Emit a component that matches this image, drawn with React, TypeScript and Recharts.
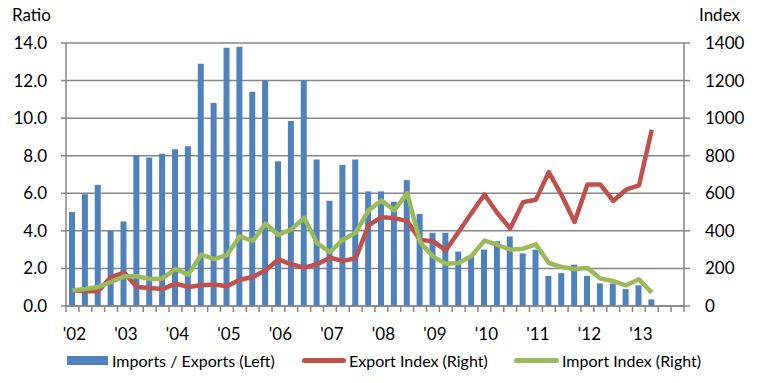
import React from "react"
import {
    ComposedChart,
    Bar,
    Line,
    XAxis,
    YAxis,
    CartesianGrid,
} from "recharts"

const years = ["02", "03", "04", "05", "06", "07", "08", "09", "10", "11", "12", "13"]
const quarters = ["Q1", "Q2", "Q3", "Q4"]

// imports / exports ratio, left axis (2002Q1 .. 2013Q2)
const ratio = [
    5.0, 5.95, 6.45, 4.0, 4.5, 8.0, 7.9, 8.1, 8.35, 8.5, 12.9, 10.8,
    13.75, 13.8, 11.4, 12.0, 7.7, 9.85, 12.0, 7.8, 5.6, 7.5, 7.8, 6.1,
    6.1, 5.55, 6.7, 4.9, 3.9, 3.9, 2.9, 2.65, 3.0, 3.45, 3.7, 2.8,
    3.0, 1.6, 1.75, 2.2, 1.6, 1.2, 1.2, 0.9, 1.1, 0.35,
]

// right axis
const exportIndex = [
    84, 78, 78, 154, 178, 101, 96, 90, 119, 101, 110, 114,
    105, 140, 154, 190, 248, 222, 204, 222, 257, 240, 254, 429,
    473, 468, 452, 352, 345, 296, 395, 495, 594, 495, 412, 553,
    566, 713, 589, 447, 647, 647, 559, 619, 642, 938,
]

const importIndex = [
    84, 90, 101, 128, 158, 158, 144, 147, 197, 167, 273, 250,
    271, 371, 346, 438, 378, 408, 470, 335, 287, 353, 390, 509,
    562, 509, 601, 341, 263, 225, 229, 266, 348, 326, 300, 305,
    328, 229, 208, 197, 202, 146, 133, 110, 142, 71,
]

const leftTicks = [0, 2, 4, 6, 8, 10, 12, 14]
const rightTicks = [0, 200, 400, 600, 800, 1000, 1200, 1400]

const categories = years.flatMap((y) => quarters.map((q) => `${y}${q}`))

const data = categories.map((c, i) => ({
    name: c,
    ratio: ratio[i] ?? null,
    exp: exportIndex[i] ?? null,
    imp: importIndex[i] ?? null,
}))

const FONT = "Lato, 'Open Sans', sans-serif"
const GRID = "#868686"
const PLOT_LEFT = 66
const PLOT_RIGHT = 684
const BAND = (PLOT_RIGHT - PLOT_LEFT) / categories.length

function QuarterTick(props: any) {
    const { x, y, payload, index } = props
    const name: string = payload.value
    const isQ1 = name.endsWith("Q1")
    const last = index === categories.length - 1
    return (
        <g>
            <line x1={x - BAND / 2} x2={x - BAND / 2} y1={y - 6} y2={y} stroke={GRID} strokeWidth={1.5} />
            {last && (
                <line x1={x + BAND / 2} x2={x + BAND / 2} y1={y - 6} y2={y} stroke={GRID} strokeWidth={1.5} />
            )}
            {isQ1 && (
                <text x={x + 2} y={y + 28} textAnchor="middle" fill="#000" fontSize={17} fontFamily={FONT}>
                    {"'" + name.slice(0, 2)}
                </text>
            )}
        </g>
    )
}

function LegendRow() {
    const item = { position: "absolute" as const, top: 351, display: "flex", alignItems: "center", fontSize: 16, fontFamily: FONT, color: "#000" }
    return (
        <>
            <div style={{ ...item, left: 67 }}>
                <span style={{ display: "inline-block", width: 41, height: 9, background: "#4F81BD", marginRight: 4 }} />
                Imports / Exports (Left)
            </div>
            <div style={{ ...item, left: 302 }}>
                <span style={{ display: "inline-block", width: 44, height: 5, borderRadius: 2.5, background: "#C0504D", marginRight: 3 }} />
                Export Index (Right)
            </div>
            <div style={{ ...item, left: 514 }}>
                <span style={{ display: "inline-block", width: 45, height: 5, borderRadius: 2.5, background: "#9BBB59", marginRight: 3 }} />
                Import Index (Right)
            </div>
        </>
    )
}

export default function App() {
    return (
        <div style={{ position: "absolute", left: 0, top: 0, width: 758, height: 383, background: "#fff" }}>
            <div style={{ position: "absolute", left: 12, top: 4, fontSize: 17, fontFamily: FONT }}>Ratio</div>
            <div style={{ position: "absolute", left: 699, top: 4, fontSize: 17, fontFamily: FONT }}>Index</div>
            <ComposedChart
                width={758}
                height={383}
                data={data}
                margin={{ top: 43, right: 0, bottom: 47, left: 0 }}
                barCategoryGap={0}
            >
                <CartesianGrid vertical={false} stroke={GRID} strokeWidth={1.5} yAxisId="left" />
                <XAxis
                    dataKey="name"
                    interval={0}
                    height={30}
                    tick={<QuarterTick />}
                    tickLine={false}
                    tickSize={6}
                    tickMargin={0}
                    axisLine={{ stroke: GRID, strokeWidth: 1.5 }}
                />
                <YAxis
                    yAxisId="left"
                    domain={[0, 14]}
                    ticks={leftTicks}
                    width={66}
                    tickSize={5}
                    tickMargin={14}
                    tickFormatter={(v: number) => v.toFixed(1)}
                    tick={{ fill: "#000", fontSize: 17, fontFamily: FONT }}
                    axisLine={{ stroke: GRID, strokeWidth: 1.5 }}
                    tickLine={{ stroke: GRID, strokeWidth: 1.5 }}
                />
                <YAxis
                    yAxisId="right"
                    orientation="right"
                    domain={[0, 1400]}
                    ticks={rightTicks}
                    width={74}
                    tickSize={6}
                    tickMargin={15}
                    tick={{ fill: "#000", fontSize: 17, fontFamily: FONT, textAnchor: "start" }}
                    axisLine={{ stroke: GRID, strokeWidth: 1.5 }}
                    tickLine={{ stroke: GRID, strokeWidth: 1.5 }}
                />
                <Bar yAxisId="left" dataKey="ratio" fill="#4F81BD" barSize={6} isAnimationActive={false} />
                <Line
                    yAxisId="right"
                    dataKey="exp"
                    type="linear"
                    stroke="#C0504D"
                    strokeWidth={4.5}
                    strokeLinejoin="round"
                    dot={false}
                    isAnimationActive={false}
                />
                <Line
                    yAxisId="right"
                    dataKey="imp"
                    type="linear"
                    stroke="#9BBB59"
                    strokeWidth={4.5}
                    strokeLinejoin="round"
                    dot={false}
                    isAnimationActive={false}
                />
            </ComposedChart>
            <LegendRow />
        </div>
    )
}
